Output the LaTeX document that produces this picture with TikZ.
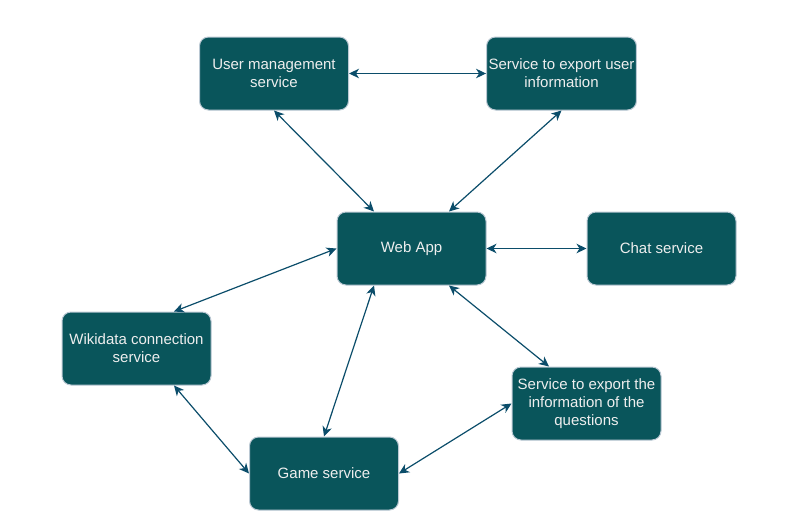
\documentclass[tikz,border=0pt]{standalone}
\usepackage{fontspec}
\setmainfont{Liberation Sans}
\usetikzlibrary{arrows.meta,calc}
\definecolor{boxfill}{HTML}{09555B}
\definecolor{boxline}{HTML}{BAC8D3}
\definecolor{boxtext}{HTML}{EEEEEE}
\definecolor{edgecol}{HTML}{0B4D6A}
\tikzset{
  svc/.style={draw=boxline, line width=1pt, fill=boxfill, rounded corners=9pt,
    minimum width=149pt, minimum height=73pt, inner sep=2pt, align=center,
    text=boxtext, font=\fontsize{15pt}{18pt}\selectfont},
  link/.style={draw=edgecol, line width=1.2pt,
    {Stealth[length=10pt,width=9.5pt,inset=3pt]}-{Stealth[length=10pt,width=9.5pt,inset=3pt]}}
}
\begin{document}
\begin{tikzpicture}[x=1pt,y=-1pt]
\useasboundingbox (0,0) rectangle (795,530);
\node[svc] (um) at (274,73.5) {User management\\service};
\node[svc] (eu) at (561.5,73.5) {Service to export user\\information};
\node[svc] (web) at (411.5,248.5) {Web App};
\node[svc] (chat) at (661.5,248.5) {Chat service};
\node[svc] (wiki) at (136.5,348.5) {Wikidata connection\\service};
\node[svc] (eq) at (586.5,403.5) {Service to export the\\information of the\\questions};
\node[svc] (game) at (324,473.5) {Game service};

\coordinate (webn1) at ($(web.north west)!0.25!(web.north east)$);
\coordinate (webn3) at ($(web.north west)!0.75!(web.north east)$);
\coordinate (webs1) at ($(web.south west)!0.25!(web.south east)$);
\coordinate (webs3) at ($(web.south west)!0.75!(web.south east)$);
\coordinate (wikin3) at ($(wiki.north west)!0.75!(wiki.north east)$);
\coordinate (wikis3) at ($(wiki.south west)!0.75!(wiki.south east)$);
\coordinate (eqn1) at ($(eq.north west)!0.25!(eq.north east)$);

\draw[link] (um.east) -- (eu.west);
\draw[link] (um.south) -- (webn1);
\draw[link] (eu.south) -- (webn3);
\draw[link] (web.east) -- (chat.west);
\draw[link] (web.west) -- (wikin3);
\draw[link] (webs1) -- (game.north);
\draw[link] (webs3) -- (eqn1);
\draw[link] (wikis3) -- (game.west);
\draw[link] (game.east) -- (eq.west);
\end{tikzpicture}
\end{document}
